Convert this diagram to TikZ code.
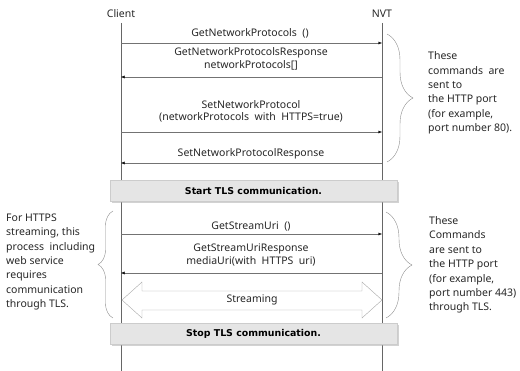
\documentclass[tikz,border=0pt]{standalone}
\usepackage{fontspec}
\setmainfont{Noto Sans}
\newfontfamily\tlsfont{DejaVu Sans}
\usetikzlibrary{arrows.meta, decorations.pathreplacing, shadows}

\begin{document}
\begin{tikzpicture}[x = 1pt, y = -1pt,
    lifeline/.style = {draw = black!60},
    msg/.style = {draw = black!55, -{Latex[length = 3.5pt, width = 3pt, black]}},
    lbl/.style = {font = \fontsize{10.5}{12.5}\selectfont, align = center, inner sep = 0pt, text = black!85},
    note/.style = {font = \fontsize{10.5}{14.4}\selectfont, align = left, anchor = west, inner sep = 0pt, text = black!85},
    tlsbox/.style = {draw = black!20, fill = black!10, minimum width = 287pt, minimum height = 21pt,
        font = \tlsfont\bfseries\fontsize{9.4}{11}\selectfont, drop shadow = {shadow xshift = 1.5pt, shadow yshift = -1.5pt, fill = black!35}},
    brc/.style = {draw = black!45, decorate, decoration = {brace, amplitude = #1}}
]
    \useasboundingbox (0, 0) rectangle (520, 371);

    % lifelines
    \node[lbl] (client) at (121, 14) {Client};
    \node[lbl] (nvt) at (382, 14) {NVT};
    \coordinate (ctop) at (121, 23);
    \coordinate (cbot) at (121, 371);
    \coordinate (ntop) at (382, 23);
    \coordinate (nbot) at (382, 371);
    \draw[lifeline] (ctop) -- (cbot);
    \draw[lifeline] (ntop) -- (nbot);

    % messages over the HTTP port
    \coordinate (c1) at (121, 43);  \coordinate (n1) at (382, 43);
    \coordinate (c2) at (121, 77);  \coordinate (n2) at (382, 77);
    \coordinate (c3) at (121, 132); \coordinate (n3) at (382, 132);
    \coordinate (c4) at (121, 163); \coordinate (n4) at (382, 163);
    \draw[msg] (c1) -- (n1);
    \draw[msg] (n2) -- (c2);
    \draw[msg] (c3) -- (n3);
    \draw[msg] (n4) -- (c4);
    \node[lbl] (m1) at (250, 33) {GetNetworkProtocols\ \ ()};
    \node[lbl] (m2) at (251, 59) {GetNetworkProtocolsResponse\\networkProtocols[]};
    \node[lbl] (m3) at (251, 111.5) {SetNetworkProtocol\\(networkProtocols\ \ with\ \ HTTPS=true)};
    \node[lbl] (m4) at (251, 154) {SetNetworkProtocolResponse};

    \node[tlsbox] (start) at (253.5, 191) {Start TLS communication.};

    % messages through TLS
    \coordinate (c5) at (121, 234); \coordinate (n5) at (382, 234);
    \coordinate (c6) at (121, 273); \coordinate (n6) at (382, 273);
    \draw[msg] (c5) -- (n5);
    \draw[msg] (n6) -- (c6);
    \node[lbl] (m5) at (251, 226) {GetStreamUri\ \ ()};
    \node[lbl] (m6) at (251, 255) {GetStreamUriResponse\\mediaUri(with\ \ HTTPS\ \ uri)};

    \draw[draw = black!35, fill = white] (122, 300) -- (142, 282) -- (142, 291) -- (362, 291) -- (362, 282)
        -- (382, 300) -- (362, 318) -- (362, 310) -- (142, 310) -- (142, 318) -- cycle;
    \node[lbl] (stream) at (252, 300) {Streaming};

    \node[tlsbox] (stop) at (253.5, 334) {Stop TLS communication.};

    % braces and notes
    \coordinate (b1top) at (387, 34);  \coordinate (b1bot) at (387, 162);
    \coordinate (b2top) at (386, 212); \coordinate (b2bot) at (386, 318);
    \coordinate (b3top) at (113, 211); \coordinate (b3bot) at (113, 318);
    \draw[brc = 26pt] (b1top) -- (b1bot);
    \draw[brc = 26pt] (b2top) -- (b2bot);
    \draw[brc = 15pt] (b3bot) -- (b3top);
    \node[note] (note1) at (428, 93) {These\\commands\ \ are\\sent to\\the HTTP\ port\\(for example,\\port number 80).};
    \node[note] (note2) at (429, 265) {These\\Commands\\are sent to\\the HTTP\ port\\(for example,\\port number 443)\\through TLS.};
    \node[note] (note3) at (6, 262) {For HTTPS\\streaming, this\\process\ \ including\\web service\\requires\\communication\\through TLS.};
\end{tikzpicture}
\end{document}
